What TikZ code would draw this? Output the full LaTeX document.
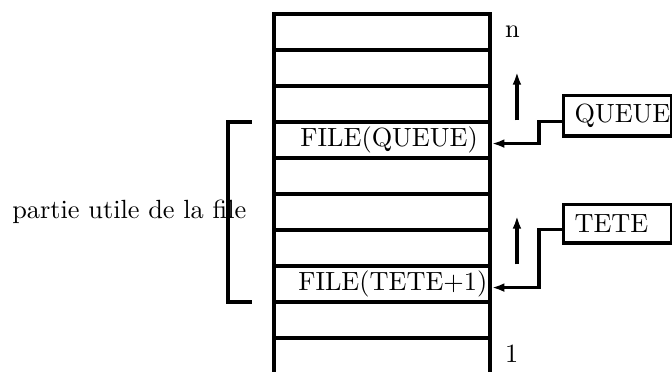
\documentclass[tikz,border=0pt]{standalone}
\usepackage{amsmath}
\usepackage{tikz}
\usetikzlibrary{arrows.meta}

\tikzset{
	cell/.style={draw,minimum width=3cm,minimum height=0.5cm,inner sep=0pt},
	ptr/.style={draw,minimum width=1.5cm,minimum height=0.53cm,inner xsep=0.15cm,text width=1.2cm,align=left,anchor=west},
}

\begin{document}
\begin{tikzpicture}[line width=1.35pt,>={Latex[length=5pt,width=3.5pt]},font=\fontsize{10.4}{12.5}\selectfont] % scale = 1
					\useasboundingbox (-3.806,0.028) rectangle (5.527,5.194);
					\foreach \i in {1,...,9}
						\node[cell] (r\i) at (1.5,0.25+0.5*\i) {};
					\draw (0,0) -- (0,0.5);
					\draw (3,0) -- (3,0.5);
					\node[right] (top) at (3.07,4.75) {n};
					\node[right] (bot) at (3.07,0.28) {1};
					\node[anchor=west] (fq) at ([xshift=0.25cm]r6.west) {FILE(QUEUE)};
					\node[anchor=west] (ft) at ([xshift=0.22cm]r2.west) {FILE(TETE+1)};
					\node[ptr] (queue) at (4,3.585) {QUEUE};
					\node[ptr] (tete) at (4,2.085) {TETE};
					\draw[->] ([yshift=-0.08cm]queue.west) -- ++(-0.32,0) |- ([yshift=-0.05cm]r6.east);
					\draw[->] ([yshift=-0.08cm]tete.west) -- ++(-0.32,0) |- ([yshift=-0.05cm]r2.east);
					\draw[->] ([xshift=0.35cm]r6.north east) -- ++(0,0.67);
					\draw[->] ([xshift=0.35cm]r2.north east) -- ++(0,0.67);
					\draw (-0.31,3.5) -- (-0.64,3.5) -- (-0.64,1) -- (-0.31,1);
					\node (part) at (-2.01,2.25) {partie utile de la file};
				\end{tikzpicture}
\end{document}
